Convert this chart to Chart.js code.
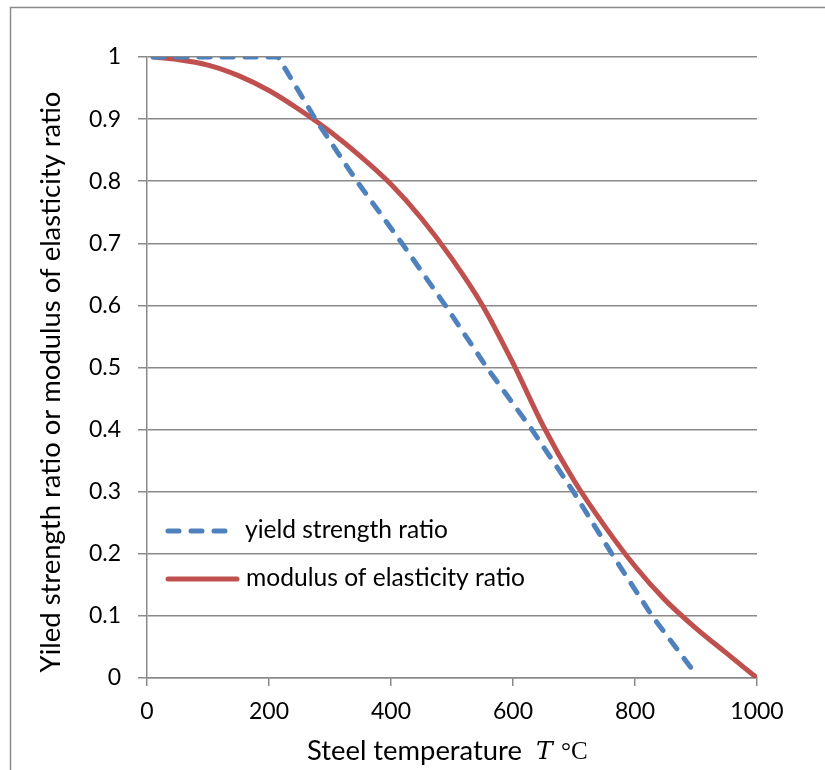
<!DOCTYPE html>
<html>
<head>
<meta charset="utf-8">
<title>Steel temperature ratios</title>
<script src="https://cdn.jsdelivr.net/npm/chart.js@4.4.1/dist/chart.umd.min.js"></script>
<style>
  html, body { margin: 0; padding: 0; background: #fff; }
  #wrap { width: 825px; height: 770px; }
</style>
</head>
<body>
<div id="wrap"><canvas id="grafico" width="825" height="770"></canvas></div>
<script>
// valores
var yieldTemp = [10, 215, 276, 344, 418, 489, 557, 631, 699, 762, 828, 893];
var yieldRatio = [1, 1, 0.9, 0.8, 0.7, 0.6, 0.5, 0.4, 0.3, 0.2, 0.1, 0.015];

var modTemp = [10, 50, 100, 150, 200, 250, 300, 350, 400, 450, 500, 550, 600, 650, 700, 750, 800, 850, 900, 950, 1000];
var modRatio = [1, 0.996, 0.987, 0.97, 0.946, 0.915, 0.88, 0.84, 0.795, 0.74, 0.675, 0.6, 0.507, 0.405, 0.318, 0.245, 0.18, 0.125, 0.08, 0.04, 0];

var xTicks = [0, 200, 400, 600, 800, 1000];
var yTicks = [0, 0.1, 0.2, 0.3, 0.4, 0.5, 0.6, 0.7, 0.8, 0.9, 1];

var seriesNames = ["yield strength ratio", "modulus of elasticity ratio"];
var xTitle = ["Steel temperature  ", "T", " \u00b0C"];
var yTitle = "Yiled strength ratio or modulus of elasticity ratio";

var fonte = "Lato, 'Open Sans', sans-serif";
var cinza = "#8a8a8a";
var azul = "#4f81bd";
var vermelho = "#c0504d";

function pontos(xs, ys) {
  return xs.map(function (x, i) {
    return { x: x, y: ys[i] };
  });
}

// escolhe o tamanho da fonte para o texto ocupar a largura dada
function ajustarFonte(ctx, texto, largura, estilo) {
  ctx.font = (estilo || "") + "20px " + fonte;
  var w = ctx.measureText(texto).width;
  return (estilo || "") + (20 * largura / w).toFixed(2) + "px " + fonte;
}

// borda, títulos e legenda desenhados à mão
var extras = {
  id: "extras",
  beforeDraw: function (chart) {
    var ctx = chart.ctx;
    ctx.save();
    ctx.strokeStyle = cinza;
    ctx.lineWidth = 1.5;
    ctx.beginPath();
    ctx.moveTo(10.5, 770);
    ctx.lineTo(10.5, 7.5);
    ctx.lineTo(825, 7.5);
    ctx.stroke();
    ctx.restore();
  },
  afterDraw: function (chart) {
    var ctx = chart.ctx;
    ctx.save();
    ctx.fillStyle = "#000";

    // título do eixo y
    ctx.save();
    ctx.translate(51, 382);
    ctx.rotate(-Math.PI / 2);
    ctx.font = ajustarFonte(ctx, yTitle, 581);
    ctx.textAlign = "center";
    ctx.textBaseline = "middle";
    ctx.fillText(yTitle, 0, 0);
    ctx.restore();

    // título do eixo x (T em itálico)
    ctx.textBaseline = "middle";
    ctx.textAlign = "left";
    ctx.font = ajustarFonte(ctx, xTitle[0].trim(), 215);
    ctx.fillText(xTitle[0], 307, 751);
    ctx.font = "italic 25px 'DejaVu Serif', 'Liberation Serif', serif";
    ctx.fillText(xTitle[1], 536, 752);
    ctx.font = "25px 'Liberation Serif', serif";
    ctx.fillText(xTitle[2].trim(), 561, 752);

    // legenda dentro da área do gráfico
    var itens = [
      { y: 531, x1: 168, x2: 232, dash: [11, 12], tx: 245, w: 203 },
      { y: 579, x1: 168, x2: 237, dash: [], tx: 246, w: 279 },
    ];
    itens.forEach(function (it, i) {
      var ds = chart.data.datasets[i];
      ctx.strokeStyle = ds.borderColor;
      ctx.lineWidth = ds.borderWidth;
      ctx.lineCap = "round";
      ctx.setLineDash(it.dash);
      ctx.beginPath();
      ctx.moveTo(it.x1, it.y);
      ctx.lineTo(it.x2, it.y);
      ctx.stroke();
      ctx.setLineDash([]);
      ctx.font = ajustarFonte(ctx, ds.label, it.w);
      ctx.fillStyle = "#000";
      ctx.textBaseline = "middle";
      ctx.fillText(ds.label, it.tx, it.y - 1);
    });
    ctx.restore();
  },
};

new Chart(document.getElementById("grafico"), {
  type: "line",
  data: {
    datasets: [
      {
        label: seriesNames[0],
        data: pontos(yieldTemp, yieldRatio),
        borderColor: azul,
        borderWidth: 5,
        borderDash: [11, 12],
        borderCapStyle: "round",
        tension: 0,
        pointRadius: 0,
        fill: false,
      },
      {
        label: seriesNames[1],
        data: pontos(modTemp, modRatio),
        borderColor: vermelho,
        borderWidth: 5,
        cubicInterpolationMode: "monotone",
        borderCapStyle: "round",
        pointRadius: 0,
        fill: false,
      },
    ],
  },
  options: {
    responsive: false,
    animation: false,
    devicePixelRatio: 1,
    layout: { padding: { left: 0, top: 57, right: 68, bottom: 0 } },
    plugins: {
      legend: { display: false },
      tooltip: { enabled: false },
    },
    scales: {
      x: {
        type: "linear",
        min: 0,
        max: 1000,
        afterBuildTicks: function (scale) {
          scale.ticks = xTicks.map(function (v) { return { value: v }; });
        },
        afterFit: function (scale) { scale.height = 92; },
        grid: { drawOnChartArea: false, color: cinza, lineWidth: 1.5, tickLength: 8 },
        border: { color: cinza, width: 1.5 },
        ticks: {
          color: "#000",
          padding: 12,
          maxRotation: 0,
          font: { family: fonte, size: 23 },
          callback: function (v) { return String(v); },
        },
      },
      y: {
        type: "linear",
        min: 0,
        max: 1,
        afterBuildTicks: function (scale) {
          scale.ticks = yTicks.map(function (v) { return { value: v }; });
        },
        afterFit: function (scale) { scale.width = 147; },
        grid: { color: cinza, lineWidth: 1.5, tickLength: 9 },
        border: { color: cinza, width: 1.5 },
        ticks: {
          color: "#000",
          padding: 17,
          font: { family: fonte, size: 23 },
          callback: function (v) { return String(Number(v.toFixed(1))); },
        },
      },
    },
  },
  plugins: [extras],
});
</script>
</body>
</html>
